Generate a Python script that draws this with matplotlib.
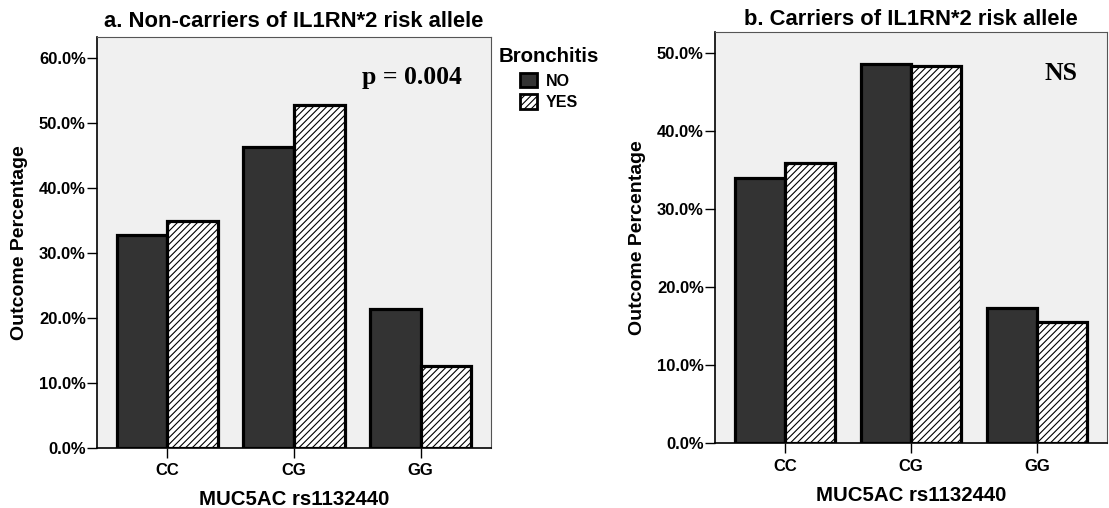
import matplotlib
matplotlib.use("Agg")
import matplotlib.pyplot as plt
import numpy as np
from matplotlib.ticker import FuncFormatter, MultipleLocator
from matplotlib.patches import Patch

plt.rcParams["font.family"] = ["Liberation Sans", "DejaVu Sans"]
plt.rcParams["font.weight"] = "bold"
plt.rcParams["hatch.color"] = "#2a2a2a"
plt.rcParams["hatch.linewidth"] = 0.8

# Genotype categories and outcome percentages by bronchitis status
genotypes = ["CC", "CG", "GG"]
noncarrier_no = [32.7, 46.2, 21.3]
noncarrier_yes = [34.9, 52.7, 12.6]
carrier_no = [34.0, 48.6, 17.4]
carrier_yes = [35.9, 48.4, 15.6]

titles = ["a. Non-carriers of IL1RN*2 risk allele", "b. Carriers of IL1RN*2 risk allele"]
annotations = ["p = 0.004", "NS"]
legend_title = "Bronchitis"
series_names = ["NO", "YES"]
x_label = "MUC5AC rs1132440"
y_label = "Outcome Percentage"

W, H = 1109, 508
fig = plt.figure(figsize=(W / 100, H / 100), dpi=100)


def frac(l, t, r, b):
    return [l / W, 1 - b / H, (r - l) / W, (b - t) / H]


ax_a = fig.add_axes(frac(97, 36.7, 491, 447.7))
ax_b = fig.add_axes(frac(715, 32.3, 1107, 443.3))

panels = [
    (ax_a, noncarrier_no, noncarrier_yes, 63.2, titles[0], annotations[0], 7),
    (ax_b, carrier_no, carrier_yes, 52.7, titles[1], annotations[1], 5),
]

x = np.arange(len(genotypes))
width = 0.4
dark = "#333333"
hatch = "/////"

for ax, no_vals, yes_vals, ytop, title, note, tpad in panels:
    ax.set_facecolor("#f0f0f0")
    ax.bar(x - width / 2, no_vals, width, color=dark, edgecolor="black",
           linewidth=2.3, zorder=2)
    ax.bar(x + width / 2, yes_vals, width, color="white", edgecolor="black",
           linewidth=2.3, hatch=hatch, zorder=2)
    ax.set_xlim(-0.555, 2.555)
    ax.set_ylim(0, ytop)
    ax.yaxis.set_major_locator(MultipleLocator(10))
    ax.yaxis.set_major_formatter(FuncFormatter(lambda v, p: f"{v:.1f}%"))
    ax.set_xticks(x)
    ax.set_xticklabels(genotypes)
    ax.tick_params(axis="y", length=7, width=1, pad=1, labelsize=12)
    ax.tick_params(axis="x", length=7, width=1, pad=4, labelsize=12)
    for s in ("top", "right"):
        ax.spines[s].set_color("#555555")
        ax.spines[s].set_linewidth(0.8)
    for s in ("left", "bottom"):
        ax.spines[s].set_color("black")
        ax.spines[s].set_linewidth(1.2)
    ax.set_title(title, fontsize=15.8, fontweight="bold", pad=tpad)
    ax.set_xlabel(x_label, fontsize=14.7, fontweight="bold", labelpad=9)
    ax.set_ylabel(y_label, fontsize=14, fontweight="bold", labelpad=8)
    ax.text(0.925, 0.885, note, transform=ax.transAxes, ha="right", va="baseline",
            fontsize=18.5, fontweight="bold", family=["Liberation Serif", "DejaVu Serif"])

# Legend for bronchitis status
fig.text(499 / W, 1 - 56 / H, legend_title, fontsize=14.7, fontweight="bold",
         ha="left", va="center")
handles = [
    Patch(facecolor=dark, edgecolor="black", linewidth=2.0),
    Patch(facecolor="white", edgecolor="black", linewidth=2.0, hatch=hatch),
]
fig.legend(handles, series_names, loc="upper left",
           bbox_to_anchor=(520 / W, 1 - 73 / H), frameon=False,
           prop={"size": 11.5, "weight": "bold"}, handlelength=1.05,
           handleheight=1.0, handletextpad=0.55, labelspacing=0.35,
           borderpad=0, borderaxespad=0)

fig.savefig("out.png", dpi=100)
